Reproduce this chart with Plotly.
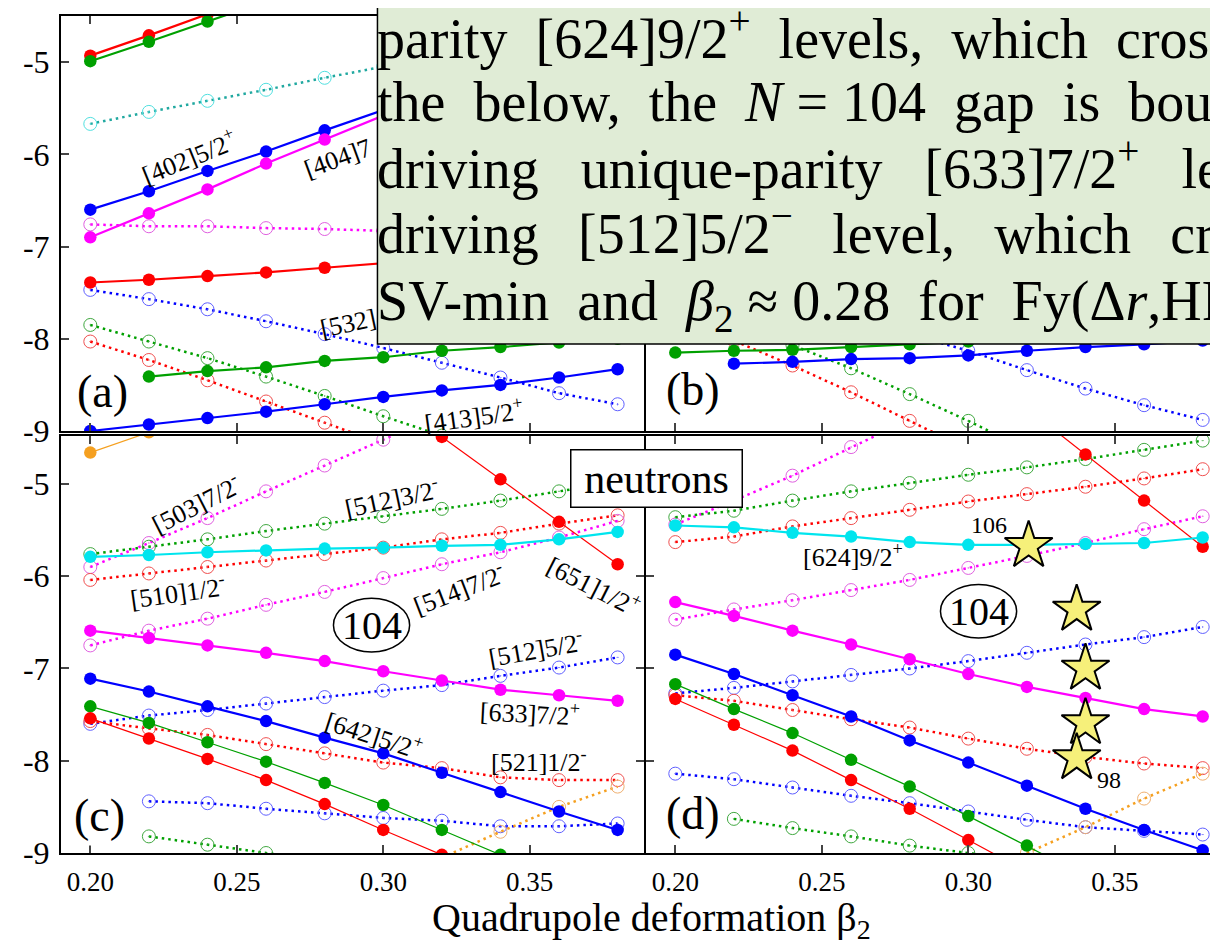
import plotly.graph_objects as go

N = None
X = [0.20, 0.22, 0.24, 0.26, 0.28, 0.30, 0.32, 0.34, 0.36, 0.38]
XTICKS = [0.20, 0.25, 0.30, 0.35]
XTICKTEXT = ["0.20", "0.25", "0.30", "0.35"]
YTICKS = [-9, -8, -7, -6, -5]
YTICKTEXT = ["-9", "-8", "-7", "-6", "-5"]

# ---- panel (a) ----
a_red_top = [-4.93, -4.71, -4.48, -4.25, N, N, N, N, N, N]
a_green_top = [-4.99, -4.78, -4.56, -4.34, N, N, N, N, N, N]
a_cyan_dot = [-5.67, -5.54, -5.42, -5.30, -5.17, -5.05, -4.93, N, N, N]
a_blue_402 = [-6.60, -6.40, -6.18, -5.97, -5.74, -5.52, -5.30, N, N, N]
a_mag_404 = [-6.90, -6.64, -6.38, -6.10, -5.84, -5.58, -5.32, N, N, N]
a_mag_dot = [-6.76, -6.78, -6.78, -6.80, -6.81, -6.83, -6.85, N, N, N]
a_red_mid = [-7.39, -7.36, -7.32, -7.28, -7.23, -7.18, -7.13, N, N, N]
a_blue_532 = [-7.47, -7.57, -7.68, -7.81, -7.95, -8.10, -8.26, -8.42, -8.59, -8.71]
a_green_dot = [-7.85, -8.03, -8.21, -8.41, -8.62, -8.84, -9.05, N, N, N]
a_red_dot = [-8.03, -8.23, -8.45, -8.68, -8.91, -9.14, N, N, N, N]
a_green_low = [N, -8.41, -8.35, -8.31, -8.24, -8.20, -8.13, -8.09, -8.04, -8.00]
a_blue_413 = [-9.00, -8.93, -8.86, -8.79, -8.71, -8.63, -8.56, -8.50, -8.42, -8.33]

# ---- panel (b) ----
b_green = [-8.15, -8.13, -8.12, -8.09, -8.06, -8.03, -8.00, N, N, N]
b_blue = [N, -8.27, -8.25, -8.22, -8.21, -8.18, -8.13, -8.09, -8.06, -8.02]
b_red_dot = [-7.76, -8.02, -8.29, -8.58, -8.89, -9.20, N, N, N, N]
b_green_dot = [N, -7.84, -8.07, -8.32, -8.60, -8.89, -9.20, N, N, N]
b_blue_dot = [N, N, N, N, -7.95, -8.13, -8.34, -8.54, -8.72, -8.88]

# ---- panel (c) ----
c_orange = [-4.66, -4.44, N, N, N, N, N, N, N, N]
c_mag_503 = [-5.90, -5.64, -5.37, -5.08, -4.80, -4.52, -4.24, N, N, N]
c_green_512 = [-5.76, -5.68, -5.60, -5.51, -5.43, -5.35, -5.27, -5.18, -5.08, -4.98]
c_cyan = [-5.79, -5.77, -5.74, -5.72, -5.70, -5.69, -5.67, -5.66, -5.60, -5.52]
c_red_510 = [-6.04, -5.97, -5.90, -5.83, -5.76, -5.69, -5.60, -5.53, -5.43, -5.34]
c_mag_514 = [-6.75, -6.59, -6.46, -6.31, -6.17, -6.02, -5.87, -5.74, -5.58, -5.40]
c_mag_633 = [-6.59, -6.67, -6.75, -6.83, -6.92, -7.03, -7.13, -7.23, -7.29, -7.35]
c_blue_642 = [-7.11, -7.25, -7.41, -7.57, -7.75, -7.92, -8.13, -8.34, -8.55, -8.75]
c_blue_512 = [-7.60, -7.51, -7.45, -7.38, -7.31, -7.24, -7.18, -7.08, -6.99, -6.88]
c_green_sol = [-7.41, -7.59, -7.80, -8.01, -8.24, -8.48, -8.75, -9.02, N, N]
c_red_sol = [-7.54, -7.76, -7.98, -8.21, -8.47, -8.75, -9.02, N, N, N]
c_red_521 = [-7.57, -7.65, -7.72, -7.82, -7.92, -8.02, -8.08, -8.18, -8.21, -8.21]
c_blue_low = [N, -8.44, -8.46, -8.52, -8.57, -8.62, -8.65, -8.71, -8.71, -8.68]
c_green_low = [N, -8.82, -8.91, -9.00, -9.09, N, N, N, N, N]
c_red_651 = [N, N, N, N, N, -4.03, -4.49, -4.95, -5.41, -5.87]
c_orange_dot = [N, N, N, N, N, N, -9.05, -8.77, -8.50, -8.28]

# ---- panel (d) ----
d_cyan = [-5.45, -5.47, -5.53, -5.57, -5.63, -5.66, -5.66, -5.65, -5.64, -5.58]
d_mag_sol = [-6.28, -6.43, -6.59, -6.74, -6.90, -7.06, -7.20, -7.32, -7.44, -7.52]
d_blue_sol = [-6.85, -7.06, -7.29, -7.52, -7.78, -8.02, -8.27, -8.52, -8.75, -8.97]
d_green_sol = [-7.17, -7.44, -7.70, -7.99, -8.28, -8.60, -8.92, -9.25, N, N]
d_red_sol = [-7.33, -7.61, -7.89, -8.21, -8.52, -8.86, -9.20, N, N, N]
d_red_651 = [N, N, N, N, N, N, -4.18, -4.68, -5.18, -5.68]
d_mag_503 = [-5.44, -5.18, -4.91, -4.60, -4.30, N, N, N, N, N]
d_green_512 = [-5.36, -5.29, -5.18, -5.08, -4.99, -4.90, -4.82, -4.73, -4.63, -4.53]
d_red_510 = [-5.63, -5.57, -5.46, -5.37, -5.28, -5.19, -5.11, -5.03, -4.94, -4.84]
d_mag_514 = [-6.47, -6.36, -6.26, -6.15, -6.04, -5.91, -5.78, -5.64, -5.49, -5.35]
d_blue_512 = [-7.27, -7.21, -7.14, -7.07, -7.00, -6.92, -6.83, -6.74, -6.66, -6.55]
d_red_521 = [-7.29, -7.35, -7.45, -7.55, -7.64, -7.76, -7.87, -7.96, -8.03, -8.08]
d_blue_low = [-8.14, -8.20, -8.29, -8.38, -8.46, -8.55, -8.64, -8.72, -8.76, -8.80]
d_green_low = [N, -8.63, -8.73, -8.82, -8.92, -9.00, -9.08, N, N, N]
d_orange_dot = [N, N, N, N, N, N, -9.00, -8.72, -8.41, -8.14]

star_x = [0.3206, 0.337, 0.340, 0.340, 0.337]
star_y = [-5.67, -6.36, -7.00, -7.59, -7.97]

# colours
RED, GREEN, BLUE, MAG, CYAN, ORANGE = "#ff0000", "#00a000", "#0000ff", "#ff00ff", "#00e5ee", "#f5a020"
TEAL = "#20a8a0"
LIGHT = {RED: "#f05050", GREEN: "#40a840", BLUE: "#6060ff", MAG: "#e060e0",
         TEAL: "#50e0e0", ORANGE: "#f0b070"}

SERIF = "Liberation Serif, Times New Roman, serif"

fig = go.Figure()


def add(panel, ys, color, kind):
    xa, ya = {"a": ("x", "y"), "b": ("x2", "y2"), "c": ("x3", "y3"), "d": ("x4", "y4")}[panel]
    if kind == "solid":
        line = dict(color=color, width=2.2)
        marker = dict(symbol="circle", size=12.5, color=color)
    elif kind == "thin":
        line = dict(color=color, width=1.2)
        marker = dict(symbol="circle", size=12.5, color=color)
    else:
        line = dict(color=color, width=2.5, dash="2.5px,4px")
        mc = LIGHT.get(color, color)
        marker = dict(symbol="circle-open-dot", size=13, color=mc, line=dict(width=1, color=mc))
    fig.add_trace(go.Scatter(x=X, y=ys, mode="lines+markers", xaxis=xa, yaxis=ya,
                             line=line, marker=marker, showlegend=False, hoverinfo="skip"))


# dotted first
for p, ys, c in [
    ("a", a_cyan_dot, TEAL), ("a", a_mag_dot, MAG), ("a", a_blue_532, BLUE),
    ("a", a_green_dot, GREEN), ("a", a_red_dot, RED),
    ("b", b_red_dot, RED), ("b", b_green_dot, GREEN), ("b", b_blue_dot, BLUE),
    ("c", c_mag_503, MAG), ("c", c_green_512, GREEN), ("c", c_red_510, RED),
    ("c", c_mag_514, MAG), ("c", c_blue_512, BLUE), ("c", c_red_521, RED),
    ("c", c_blue_low, BLUE), ("c", c_green_low, GREEN), ("c", c_orange_dot, ORANGE),
    ("d", d_mag_503, MAG), ("d", d_green_512, GREEN), ("d", d_red_510, RED),
    ("d", d_mag_514, MAG), ("d", d_blue_512, BLUE), ("d", d_red_521, RED),
    ("d", d_blue_low, BLUE), ("d", d_green_low, GREEN), ("d", d_orange_dot, ORANGE),
]:
    add(p, ys, c, "dot")

for p, ys, c, k in [
    ("a", a_red_top, RED, "solid"), ("a", a_green_top, GREEN, "solid"),
    ("a", a_blue_402, BLUE, "solid"), ("a", a_mag_404, MAG, "solid"),
    ("a", a_red_mid, RED, "solid"), ("a", a_green_low, GREEN, "solid"),
    ("a", a_blue_413, BLUE, "solid"),
    ("b", b_green, GREEN, "solid"), ("b", b_blue, BLUE, "solid"),
    ("c", c_orange, ORANGE, "thin"), ("c", c_green_sol, GREEN, "thin"),
    ("c", c_red_sol, RED, "thin"), ("c", c_red_651, RED, "thin"),
    ("c", c_cyan, CYAN, "solid"), ("c", c_mag_633, MAG, "solid"), ("c", c_blue_642, BLUE, "solid"),
    ("d", d_green_sol, GREEN, "thin"), ("d", d_red_sol, RED, "thin"), ("d", d_red_651, RED, "thin"),
    ("d", d_cyan, CYAN, "solid"), ("d", d_mag_sol, MAG, "solid"), ("d", d_blue_sol, BLUE, "solid"),
]:
    add(p, ys, c, k)

fig.add_trace(go.Scatter(x=star_x, y=star_y, mode="markers", xaxis="x4", yaxis="y4",
                         marker=dict(symbol="star", size=36, color="#f6f07a",
                                     line=dict(color="black", width=2)),
                         showlegend=False, hoverinfo="skip"))

# ---- layout geometry (pixels) ----
W, H = 1218, 950
ML, MT, MB = 53, 8, 105
PW, PH = W - ML, H - MT - MB


def px(p):
    return (p - ML) / PW


def py(p):
    return (H - MB - p) / PH


xa_common = dict(tickvals=XTICKS, ticktext=XTICKTEXT, ticks="inside", ticklen=8, tickwidth=1.5,
                 showline=True, linewidth=2, linecolor="black", mirror="ticks",
                 showgrid=False, zeroline=False,
                 tickfont=dict(family=SERIF, size=27, color="black"), ticklabelstandoff=4)
ya_common = dict(tickvals=YTICKS, ticktext=YTICKTEXT, ticks="inside", ticklen=8, tickwidth=1.5,
                 showline=True, linewidth=2, linecolor="black", mirror="ticks",
                 showgrid=False, zeroline=False,
                 tickfont=dict(family=SERIF, size=32, color="black"), ticklabelstandoff=3)

XR_L = [0.19, 0.389]
XR_R = [0.19, 0.19 + (W - 639) / 2935]

fig.update_layout(
    width=W, height=H, margin=dict(l=ML, r=0, t=MT, b=MB),
    paper_bgcolor="white", plot_bgcolor="white",
    xaxis=dict(xa_common, domain=[0, px(637)], range=XR_L, anchor="y", showticklabels=False),
    yaxis=dict(ya_common, domain=[py(423), 1], range=[-9, -4.5], anchor="x"),
    xaxis2=dict(xa_common, domain=[px(639), 1], range=XR_R, anchor="y2", showticklabels=False),
    yaxis2=dict(ya_common, domain=[py(423), 1], range=[-9, -4.5], anchor="x2", showticklabels=False),
    xaxis3=dict(xa_common, domain=[0, px(637)], range=XR_L, anchor="y3"),
    yaxis3=dict(ya_common, domain=[0, py(428)], range=[-9, -4.48], anchor="x3"),
    xaxis4=dict(xa_common, domain=[px(639), 1], range=XR_R, anchor="y4"),
    yaxis4=dict(ya_common, domain=[0, py(428)], range=[-9, -4.48], anchor="x4", showticklabels=False),
)

shapes = []
# ellipses around "104"
for xr, yr, cx, cy in [("x3", "y3", 0.296, -6.53), ("x4", "y4", 0.3035, -6.38)]:
    shapes.append(dict(type="circle", xref=xr, yref=yr, x0=cx - 0.0130, x1=cx + 0.0130,
                       y0=cy - 0.29, y1=cy + 0.29, line=dict(color="black", width=1.5)))
# green text box overlay
shapes.append(dict(type="rect", xref="paper", yref="paper", x0=px(370), x1=px(1240),
                   y0=py(336), y1=py(-20), fillcolor="#e0ecd6", line=dict(color="black", width=1.5),
                   layer="above"))
fig.update_layout(shapes=shapes)

ann = []


def lab(text, x, y, ang, xr, yr, size=26):
    ann.append(dict(text=text, x=x, y=y, xref=xr, yref=yr, textangle=ang, showarrow=False,
                    xanchor="center", yanchor="middle",
                    font=dict(family=SERIF, size=size, color="black")))


for t, x, y, a in [("[402]5/2<sup>+</sup>", 0.2338, -6.02, -22), ("[404]7", 0.2845, -6.04, -20),
                   ("[532]", 0.288, -7.83, -12), ("[413]5/2<sup>+</sup>", 0.331, -8.83, -8)]:
    lab(t, x, y, a, "x", "y")
for t, x, y, a in [("[503]7/2<sup>-</sup>", 0.236, -5.21, -27), ("[512]3/2<sup>-</sup>", 0.303, -5.15, -12),
                   ("[510]1/2<sup>-</sup>", 0.230, -6.17, -8), ("[514]7/2<sup>-</sup>", 0.326, -6.13, -21),
                   ("[651]1/2<sup>+</sup>", 0.372, -6.10, 27), ("[512]5/2<sup>-</sup>", 0.352, -6.78, -10),
                   ("[633]7/2<sup>+</sup>", 0.350, -7.48, 3), ("[642]5/2<sup>+</sup>", 0.297, -7.72, 18),
                   ("[521]1/2<sup>-</sup>", 0.353, -8.00, 0)]:
    lab(t, x, y, a, "x3", "y3")
lab("104", 0.296, -6.53, 0, "x3", "y3", 40)
lab("[624]9/2<sup>+</sup>", 0.2606, -5.78, 0, "x4", "y4")
lab("106", 0.307, -5.44, 0, "x4", "y4", 24)
lab("104", 0.3035, -6.38, 0, "x4", "y4", 40)
lab("98", 0.348, -8.21, 0, "x4", "y4", 24)

# panel letters
for t, cx, cy in [("(a)", 95, 383), ("(b)", 686, 382), ("(c)", 92, 807), ("(d)", 686, 805)]:
    ann.append(dict(text=t, x=px(cx), y=py(cy), xref="paper", yref="paper", showarrow=False,
                    xanchor="center", yanchor="middle",
                    font=dict(family=SERIF, size=46, color="black"), bgcolor="white", borderpad=4))

# neutrons box
ann.append(dict(text="neutrons", x=px(650), y=py(471), xref="paper", yref="paper", showarrow=False,
                xanchor="center", yanchor="middle",
                font=dict(family=SERIF, size=42, color="black"), bgcolor="white",
                bordercolor="black", borderwidth=1.5, width=170, height=56, borderpad=0))

# x-axis title
ann.append(dict(text="Quadrupole deformation β<sub>2</sub>", x=px(645), y=py(912), xref="paper",
                yref="paper", showarrow=False, xanchor="center", yanchor="middle",
                font=dict(family=SERIF, size=40, color="black")))

# overlay text lines (text, anchor offset as fraction of font size)
S2 = "\u00a0\u00a0"
S3 = "\u00a0\u00a0\u00a0"
S25 = "\u00a0\u00a0\u2009"
FS = 56
lines = [
    ("formed" + S2 + "by" + S2 + "the" + S2 + "oblate-driving" + S2 + "[521]1/2<sup>−</sup>", 0.55),
    ("parity" + S2 + "[624]9/2<sup>+</sup>" + S2 + "levels," + S2 + "which" + S2 + "cross", 0.55),
    ("the" + S2 + "below," + S2 + "the" + S2 + "<i>N</i> = 104" + S2 + "gap" + S2 + "is" + S2 + "bounded", 0.5),
    ("driving" + S3 + "unique-parity" + S3 + "[633]7/2<sup>+</sup>" + S3 + "level", 0.55),
    ("driving" + S25 + "[512]5/2<sup>−</sup>" + S25 + "level," + S25 + "which" + S25 + "crosses", 0.55),
    ("SV-min" + S2 + "and" + S2 + "<i>β</i><sub>2</sub> ≈ 0.28" + S2 + "for" + S2 + "Fy(Δ<i>r</i>,HFB)", 0.35),
]
for i, (t, off) in enumerate(lines):
    base = -8 + 65 * i
    ann.append(dict(text=t, x=px(368), y=py(base - off * FS), xref="paper", yref="paper",
                    xanchor="left", yanchor="middle", showarrow=False, align="left",
                    font=dict(family=SERIF, size=FS, color="black")))

fig.update_layout(annotations=ann)
fig.write_html("out.html")
